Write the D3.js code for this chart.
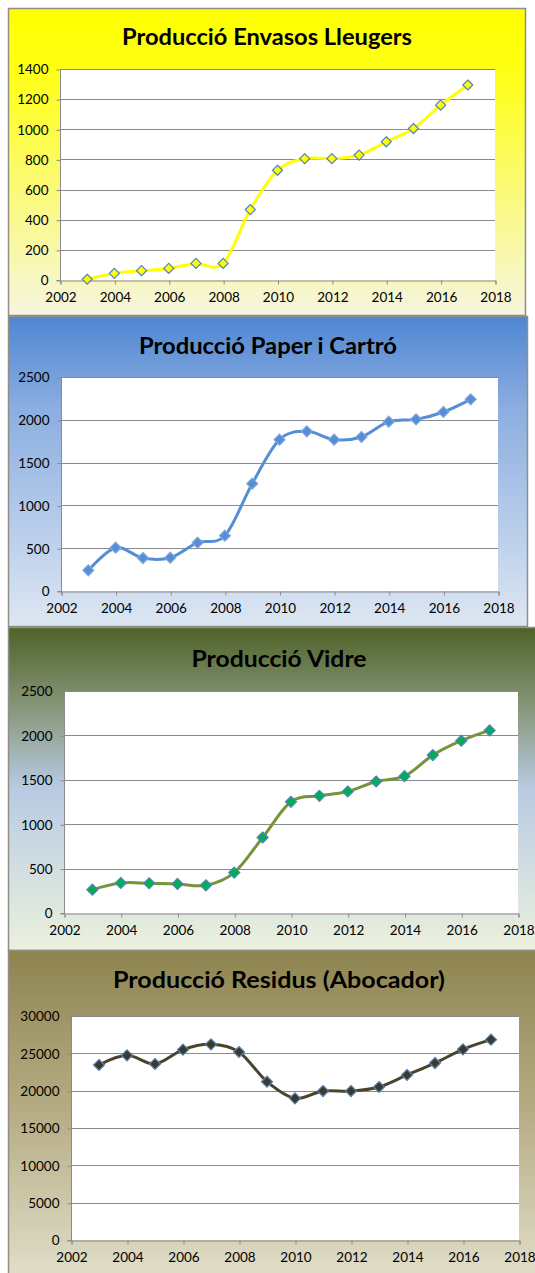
<!DOCTYPE html>
<html>
<head>
<meta charset="utf-8">
<script src="https://cdn.jsdelivr.net/npm/d3@7"></script>
<style>
  body { margin: 0; background: #fff; }
  svg { display: block; }
</style>
</head>
<body>
<svg id="chart"></svg>
<script>
// values
const years = [2003, 2004, 2005, 2006, 2007, 2008, 2009, 2010, 2011, 2012, 2013, 2014, 2015, 2016, 2017];
const envasos = [5, 44, 62, 77, 110, 110, 467, 728, 805, 805, 829, 917, 1005, 1160, 1294];
const paper = [241, 506, 385, 389, 565, 646, 1254, 1768, 1865, 1768, 1799, 1978, 2005, 2091, 2239];
const vidre = [263, 338, 335, 327, 312, 455, 850, 1252, 1319, 1368, 1481, 1541, 1778, 1940, 2056];
const residus = [23440, 24730, 23570, 25490, 26200, 25180, 21200, 18970, 19950, 19950, 20490, 22100, 23700, 25540, 26830];

const xTicks = [2002, 2004, 2006, 2008, 2010, 2012, 2014, 2016, 2018];
const yTicksEnvasos = [0, 200, 400, 600, 800, 1000, 1200, 1400];
const yTicksPaper = [0, 500, 1000, 1500, 2000, 2500];
const yTicksVidre = [0, 500, 1000, 1500, 2000, 2500];
const yTicksResidus = [0, 5000, 10000, 15000, 20000, 25000, 30000];

const titles = ['Producció Envasos Lleugers', 'Producció Paper i Cartró', 'Producció Vidre', 'Producció Residus (Abocador)'];

let width = 535;
let height = 1273;

let svg = d3.select('#chart')
	.attr('width', width)
	.attr('height', height);

let defs = svg.append('defs');

// one entry per panel: box, plot area, colours
let panels = [
	{ title: titles[0], values: envasos, yTicks: yTicksEnvasos,
		box: [8.5, 8.5, 517, 307], plot: { l: 60, r: 495, t: 69, b: 280 }, titleY: 45, titleX: 267, titleW: 290,
		stops: [[0, '#ffff00'], [0.2, '#ffff14'], [1, '#f6f5df']],
		line: '#ffff00', lineW: 3, fill: '#ffff00', stroke: '#4f81bd', r: 5 },
	{ title: titles[1], values: paper, yTicks: yTicksPaper,
		box: [8.5, 316.5, 519, 310], plot: { l: 61, r: 498, t: 377, b: 591 }, titleY: 354, titleX: 268, titleW: 258,
		stops: [[0, '#4f86d2'], [0.3, '#8caee0'], [1, '#dde7f3']],
		line: '#558ed5', lineW: 3, fill: '#558ed5', stroke: '#7fa8e0', r: 5.5 },
	{ title: titles[2], values: vidre, yTicks: yTicksVidre,
		box: [8.5, 627.5, 535, 323], plot: { l: 64, r: 518, t: 691, b: 913 }, titleY: 667, titleX: 279, titleW: 175,
		stops: [[0, '#4f6228'], [0.25, '#87977a'], [0.5, '#b9cbe3'], [1, '#ebf1de']],
		line: '#77933c', lineW: 3, fill: '#00b050', stroke: '#4f81bd', r: 5.5 },
	{ title: titles[3], values: residus, yTicks: yTicksResidus,
		box: [8.5, 950.5, 535, 330], plot: { l: 71, r: 519, t: 1016, b: 1240 }, titleY: 988, titleX: 279, titleW: 332,
		stops: [[0, '#8e8450'], [0.5, '#b7ae86'], [1, '#e2dfca']],
		line: '#4a452a', lineW: 3, fill: '#403a22', stroke: '#4f81bd', r: 5.5 }
];

panels.forEach(function (p, i) {
	let grad = defs.append('linearGradient')
		.attr('id', 'bg' + i)
		.attr('x1', 0).attr('y1', 0).attr('x2', 0).attr('y2', 1);
	p.stops.forEach(s => {
		grad.append('stop').attr('offset', s[0]).attr('stop-color', s[1]);
	});

	let g = svg.append('g').attr('class', 'panel');

	g.append('rect')
		.attr('x', p.box[0]).attr('y', p.box[1])
		.attr('width', p.box[2]).attr('height', p.box[3])
		.attr('fill', 'url(#bg' + i + ')')
		.attr('stroke', '#8f8f86').attr('stroke-width', 1.5);

	g.append('text')
		.attr('x', p.titleX).attr('y', p.titleY)
		.attr('text-anchor', 'middle')
		.attr('font-family', 'Lato, "Open Sans", sans-serif')
		.attr('font-weight', 'bold')
		.attr('font-size', 22)
		.attr('textLength', p.titleW)
		.attr('lengthAdjust', 'spacingAndGlyphs')
		.attr('fill', '#000')
		.text(p.title);

	let x = d3.scaleLinear().domain([2002, 2018]).range([p.plot.l, p.plot.r]);
	let y = d3.scaleLinear().domain([0, d3.max(p.yTicks)]).range([p.plot.b, p.plot.t]);

	g.append('rect')
		.attr('x', p.plot.l).attr('y', p.plot.t)
		.attr('width', p.plot.r - p.plot.l).attr('height', p.plot.b - p.plot.t)
		.attr('fill', '#fff');

	// horizontal gridlines
	g.append('g')
		.selectAll('line')
		.data(p.yTicks.filter(d => d > 0))
		.enter().append('line')
		.attr('x1', p.plot.l).attr('x2', p.plot.r)
		.attr('y1', d => Math.round(y(d)) + 0.5).attr('y2', d => Math.round(y(d)) + 0.5)
		.attr('stroke', '#8a8a8a').attr('stroke-width', 1);

	let yAxis = g.append('g')
		.attr('transform', 'translate(' + (p.plot.l + 0.5) + ',0.5)')
		.call(d3.axisLeft(y).tickValues(p.yTicks).tickSize(4).tickPadding(8).tickFormat(d3.format('d')));

	let xAxis = g.append('g')
		.attr('transform', 'translate(0.5,' + (Math.round(p.plot.b) + 0.5) + ')')
		.call(d3.axisBottom(x).tickValues(xTicks).tickSize(4).tickPadding(8).tickFormat(d3.format('d')));

	[yAxis, xAxis].forEach(a => {
		a.select('.domain').attr('stroke', '#8a8a8a');
		a.selectAll('.tick line').attr('stroke', '#8a8a8a');
		a.selectAll('.tick text')
			.attr('fill', '#000')
			.attr('font-family', 'Lato, "Open Sans", sans-serif')
			.attr('font-size', 13.5);
	});
	yAxis.select('.domain').attr('d', 'M-4,' + y(0) + 'H0V' + y(d3.max(p.yTicks)));

	let points = years.map((yr, k) => ({ year: yr, value: p.values[k] }));

	let line = d3.line()
		.x(d => x(d.year))
		.y(d => y(d.value))
		.curve(d3.curveCardinal.tension(0));

	g.append('path')
		.datum(points)
		.attr('d', line)
		.attr('fill', 'none')
		.attr('stroke', p.line)
		.attr('stroke-width', p.lineW)
		.attr('stroke-linejoin', 'round');

	g.append('g')
		.selectAll('path')
		.data(points)
		.enter().append('path')
		.attr('transform', d => 'translate(' + x(d.year) + ',' + y(d.value) + ')')
		.attr('d', 'M0,' + (-p.r) + 'L' + p.r + ',0L0,' + p.r + 'L' + (-p.r) + ',0Z')
		.attr('fill', p.fill)
		.attr('stroke', p.stroke)
		.attr('stroke-width', 1.2);
});
</script>
</body>
</html>
